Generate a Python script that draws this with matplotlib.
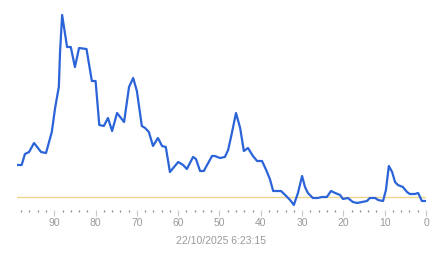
import matplotlib
matplotlib.use("Agg")
import matplotlib.pyplot as plt
import numpy as np

# seconds ago (x axis runs backwards to 0) and level
ago = [99.0, 97.9, 97.1, 96.1, 94.9, 93.2, 92.0, 90.6, 89.8, 88.9, 88.6, 88.1,
       86.9, 86.0, 85.0, 84.0, 82.2, 80.9, 80.0, 79.1, 78.0, 77.0, 76.0, 74.8,
       73.1, 71.9, 70.9, 70.0, 68.8, 68.0, 67.1, 66.1, 64.9, 63.9, 63.0, 62.0,
       61.0, 60.0, 58.8, 57.9, 56.4, 55.7, 54.7, 53.8, 51.8, 51.1, 49.9, 48.7,
       47.9, 47.0, 46.0, 45.0, 44.1, 43.1, 41.9, 40.9, 39.7, 38.7, 37.8, 37.0,
       36.1, 35.1, 34.1, 32.9, 32.0, 31.0, 30.0, 29.3, 28.6, 27.4, 26.2, 25.2,
       24.0, 23.0, 22.0, 20.8, 20.1, 18.9, 17.7, 16.7, 15.5, 14.3, 13.6, 12.3,
       11.6, 10.4, 9.7, 9.0, 8.2, 7.5, 6.8, 5.6, 4.6, 3.9, 2.7, 1.9, 1.0, 0.0]
level = [45, 45, 56, 58, 67, 58, 57, 78, 102, 123, 158, 195,
         163, 163, 143, 162, 161, 129, 129, 85, 84, 92, 79, 97,
         88, 123, 132, 119, 84, 82, 78, 64, 72, 64, 63, 38,
         43, 48, 45, 41, 53, 51, 39, 39, 54, 54, 52, 53,
         60, 77, 97, 82, 59, 62, 54, 49, 49, 40, 31, 19,
         19, 19, 15, 10, 5, 17, 34, 23, 17, 12, 12, 13,
         13, 19, 17, 15, 11, 12, 8, 7, 8, 9, 12, 12,
         10, 9, 20, 44, 38, 28, 25, 23, 18, 16, 16, 17, 9, 9]
threshold = 13
major_ticks = list(range(0, 100, 10))
minor_ticks = [t for t in range(0, 100, 2) if t % 10 != 0]
stamp = "22/10/2025 6:23:15"

plt.rcParams["font.family"] = ["Liberation Sans", "DejaVu Sans"]

fig = plt.figure(figsize=(4.43, 2.58), dpi=100)
ax = fig.add_axes([17.1 / 443, 48 / 258, 408.9 / 443, 205 / 258])

ax.axhline(threshold, color="#f0d68c", linewidth=1.0, zorder=1)
ax.plot(ago, level, color="#2b63d9", linewidth=1.6, zorder=2)

ax.set_xlim(99, 0)
ax.set_ylim(0, 205)
for s in ax.spines.values():
    s.set_visible(False)
ax.set_yticks([])
ax.set_xticks(major_ticks)
ax.set_xticks(minor_ticks, minor=True)
ax.tick_params(axis="x", which="major", length=4, width=0.8, color="#c8c8c8",
               labelsize=7.5, labelcolor="#999999", pad=1.5)
ax.tick_params(axis="x", which="minor", length=1.2, width=0.9, color="#8a8a8a")

fig.text(221.5 / 443, 17 / 258, stamp, ha="center", va="center",
         fontsize=7.5, color="#999999")

fig.savefig("out.png", dpi=100)
